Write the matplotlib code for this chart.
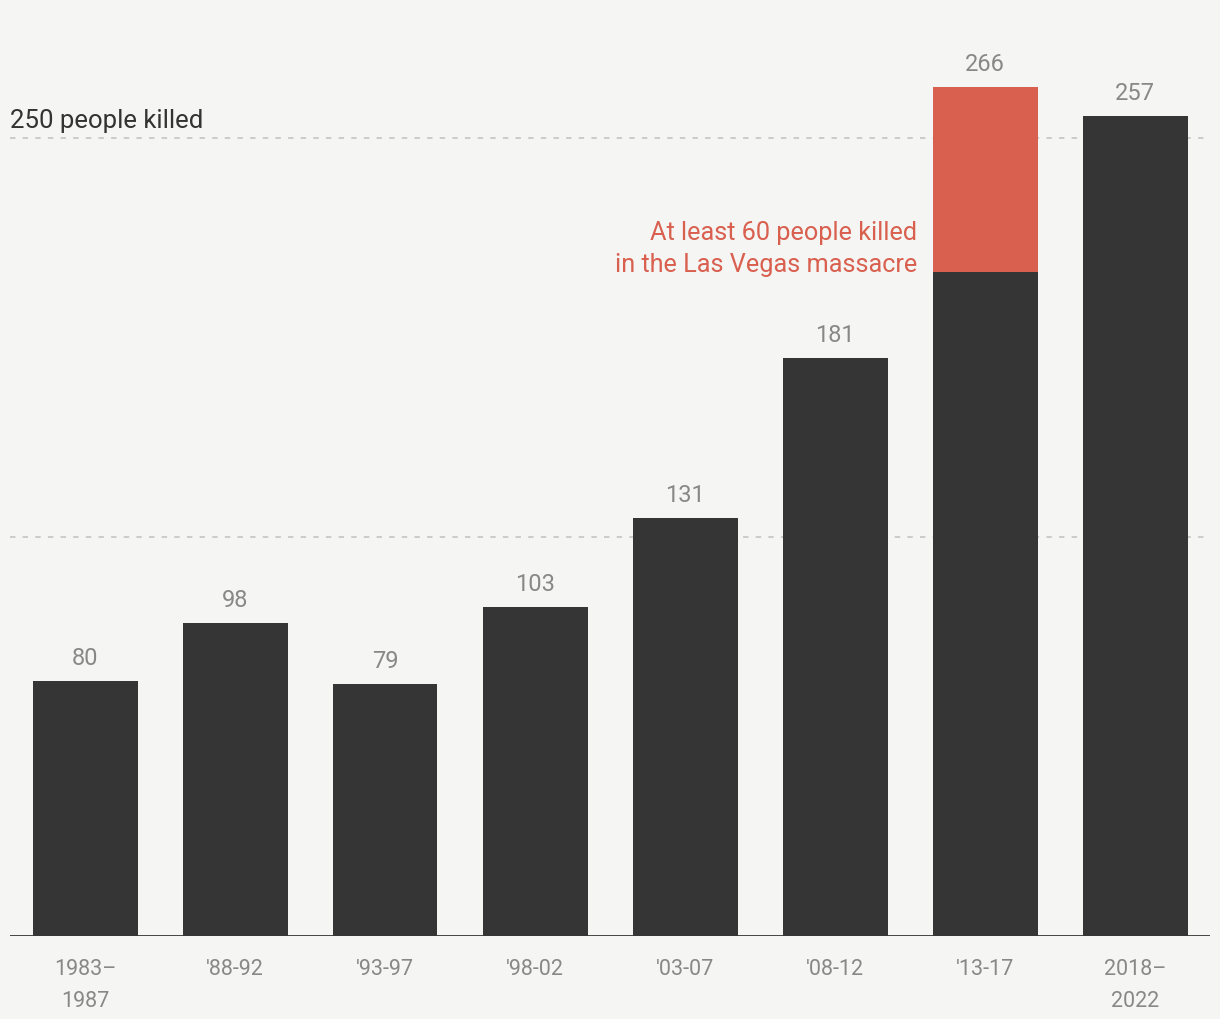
import matplotlib.pyplot as plt

periods = ["1983–\n1987", "'88-92", "'93-97", "'98-02", "'03-07", "'08-12", "'13-17", "2018–\n2022"]
totals = [80, 98, 79, 103, 131, 181, 266, 257]
# the '13-17 bar is split: Las Vegas massacre portion on top
vegas = [0, 0, 0, 0, 0, 0, 58, 0]
base = [t - v for t, v in zip(totals, vegas)]
gridlines = [125, 250]

bg = "#f5f5f3"
dark = "#353535"
red = "#d95f4f"
grey = "#888888"

plt.rcParams['font.family'] = ['Roboto', 'DejaVu Sans']

top = 320
fig = plt.figure(figsize=(12.2, 10.2), dpi=100, facecolor=bg)
ax_h = (936 - 138) / 250 * top
ax = fig.add_axes([10/1220, 1 - 937/1020, 1200/1220, ax_h / 1020])
ax.set_facecolor(bg)

x = range(len(periods))
ax.bar(x, base, width=0.7, color=dark, zorder=3)
ax.bar(x, vegas, bottom=base, width=0.7, color=red, zorder=3)

for g in gridlines:
    ax.axhline(g, color="#c8c8c8", lw=1.3, ls=(0, (3, 4)), zorder=1)

for i, t in zip(x, totals):
    ax.text(i, t + 3.8, str(t), ha="center", va="bottom", color=grey, fontsize=17)

ax.text(-0.5, 253.5, "250 people killed", ha="left", va="baseline", color="#333333", fontsize=18.5)
ax.text(5.55, 208.3, "At least 60 people killed\nin the Las Vegas massacre",
        ha="right", va="baseline", color=red, fontsize=18.2, linespacing=1.42)

ax.set_xlim(-0.5, len(periods) - 0.5)
ax.set_ylim(0, top)
ax.axhline(0, color=dark, lw=2, zorder=4)

ax.set_xticks(list(x))
ax.set_xticklabels(periods, color=grey, fontsize=15.5, linespacing=1.65)
ax.tick_params(axis="x", length=0, pad=16)
ax.set_yticks([])
for s in ax.spines.values():
    s.set_visible(False)

fig.savefig("out.png", dpi=100, facecolor=bg)
